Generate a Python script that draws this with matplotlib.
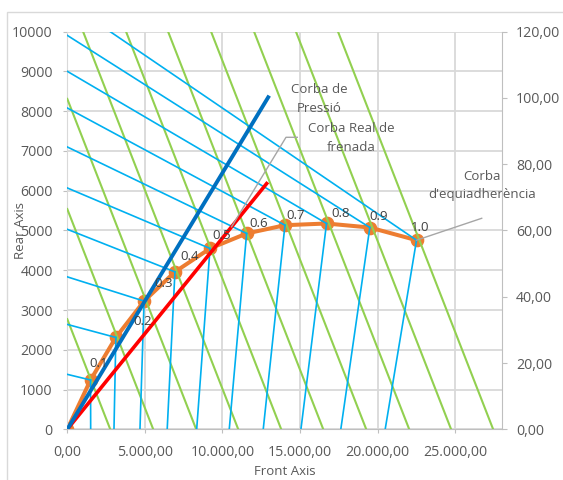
import numpy as np
import matplotlib.pyplot as plt
from matplotlib.patches import Rectangle
from matplotlib.ticker import FuncFormatter, MultipleLocator

plt.rcParams['font.family'] = ['Open Sans', 'DejaVu Sans']
plt.rcParams['font.size'] = 9.5

# ideal braking curve (equal adhesion), one point per adhesion coefficient
mu_labels = ['0.1', '0.2', '0.3', '0.4', '0.5', '0.6', '0.7', '0.8', '0.9', '1.0']
ideal_front = [0, 1500, 3130, 4950, 6940, 9200, 11560, 14030, 16710, 19500, 22510]
ideal_rear = [0, 1240, 2310, 3224, 3960, 4548, 4925, 5133, 5176, 5075, 4756]

# front axle limit lines start on the front axis, rear ones on the rear axis
front_start = [1508, 3010, 4685, 6440, 8340, 10440, 12630, 15060, 17630, 20490]
rear_start = [1382, 2638, 3834, 5030, 6070, 7101, 8081, 9003, 9907, 10736]

# constant deceleration lines: front + rear = total
total_force = [2770, 5540, 8310, 11020, 13790, 16500, 19270, 22040, 24740, 27450]

# pressure curve and real braking curve
press_front = [0, 12950]
press_rear = [0, 8350]
real_front = [0, 12850]
real_rear = [0, 6180]

txt = '#595959'
grid_c = '#D9D9D9'
axis_c = '#BFBFBF'

fig = plt.figure(figsize=(5.63, 4.8), dpi=100)
fig.add_artist(Rectangle((7 / 563, -0.1), 2, 1.075, transform=fig.transFigure,
                         fill=False, edgecolor=grid_c, lw=1))
ax = fig.add_axes([0.1195, 0.1056, 0.7716, 0.8284])
ax.set_xlim(0, 28000)
ax.set_ylim(0, 10000)

# orange ideal curve
ax.plot(ideal_front, ideal_rear, color='#ED7D31', lw=2.9, marker='o', ms=8.8, zorder=2)

for c in total_force:
    ax.plot([0, c], [c, 0], color='#92D050', lw=1.5, zorder=3)

for k in range(len(mu_labels)):
    ax.plot([front_start[k], ideal_front[k + 1]], [0, ideal_rear[k + 1]], color='#00B0F0', lw=1.2, zorder=4)
    ax.plot([0, ideal_front[k + 1]], [rear_start[k], ideal_rear[k + 1]], color='#00B0F0', lw=1.2, zorder=4)

ax.plot(real_front, real_rear, color='#FF0000', lw=2.6, zorder=5)
ax.plot(press_front, press_rear, color='#0070C0', lw=2.8, zorder=6)

# point labels
offs = [(8, 17), (27, 16), (20, 18), (15, 15), (12, 13), (12, 10), (11, 10), (14, 10), (9, 11), (4, 13)]
for k, lab in enumerate(mu_labels):
    ax.annotate(lab, (ideal_front[k + 1], ideal_rear[k + 1]), xytext=offs[k], textcoords='offset pixels',
                ha='center', va='center', color='#404040', fontsize=9.5, zorder=8)

# series labels with leader lines
ax.text(0.5794, 0.8307, 'Corba de\nPressió', transform=ax.transAxes, ha='center', va='center',
        color=txt, linespacing=1.55, zorder=8)
ax.text(0.6531, 0.7324, 'Corba Real de\nfrenada', transform=ax.transAxes, ha='center', va='center',
        color=txt, linespacing=1.55, zorder=8)
ax.text(0.9544, 0.6132, "Corba\nd'equiadherència", transform=ax.transAxes, ha='center', va='center',
        color=txt, linespacing=1.55, zorder=8)

p0 = ax.transAxes.inverted().transform(ax.transData.transform((real_front[1] * 0.824, real_rear[1] * 0.824)))
ax.plot([p0[0], 0.5035, 0.5295], [p0[1], 0.7344, 0.7344], color='#A6A6A6', lw=1, transform=ax.transAxes, zorder=7)
p1 = ax.transAxes.inverted().transform(ax.transData.transform((ideal_front[-1], ideal_rear[-1])))
ax.plot([p1[0], 0.954], [p1[1], 0.5307], color='#A6A6A6', lw=1, transform=ax.transAxes,
        zorder=7, clip_on=False)

ax.xaxis.set_major_locator(MultipleLocator(5000))
ax.yaxis.set_major_locator(MultipleLocator(1000))
ax.xaxis.set_major_formatter(FuncFormatter(lambda v, p: f'{v:,.2f}'.replace(',', 'X').replace('.', ',').replace('X', '.')))
ax.yaxis.set_major_formatter(FuncFormatter(lambda v, p: f'{v:.0f}'))
ax.grid(True, color=grid_c, lw=1.3)
ax.set_axisbelow(True)
for s in ['top', 'right']:
    ax.spines[s].set_visible(False)
ax.spines['left'].set_color(grid_c)
ax.spines['bottom'].set_color(axis_c)
ax.tick_params(colors=axis_c, labelcolor=txt, length=3, labelsize=10.2)
ax.tick_params(axis='x', pad=8)
ax.tick_params(axis='y', pad=7.5)

ax.set_xlabel('Front Axis', color=txt, fontsize=9.5, va='center')
ax.set_ylabel('Rear Axis', color=txt, fontsize=9.5, va='center')
ax.xaxis.set_label_coords(0.5, -0.107)
ax.yaxis.set_label_coords(-0.1066, 0.5)

ax2 = ax.twinx()
ax2.set_ylim(0, 120)
ax2.yaxis.set_major_locator(MultipleLocator(20))
ax2.yaxis.set_major_formatter(FuncFormatter(lambda v, p: f'{v:.2f}'.replace('.', ',')))
for s in ['top', 'left', 'bottom']:
    ax2.spines[s].set_visible(False)
ax2.spines['right'].set_color(axis_c)
ax2.tick_params(colors=axis_c, labelcolor=txt, length=3.6, labelsize=10.2, pad=6.7)

fig.savefig('out.png', dpi=100)
